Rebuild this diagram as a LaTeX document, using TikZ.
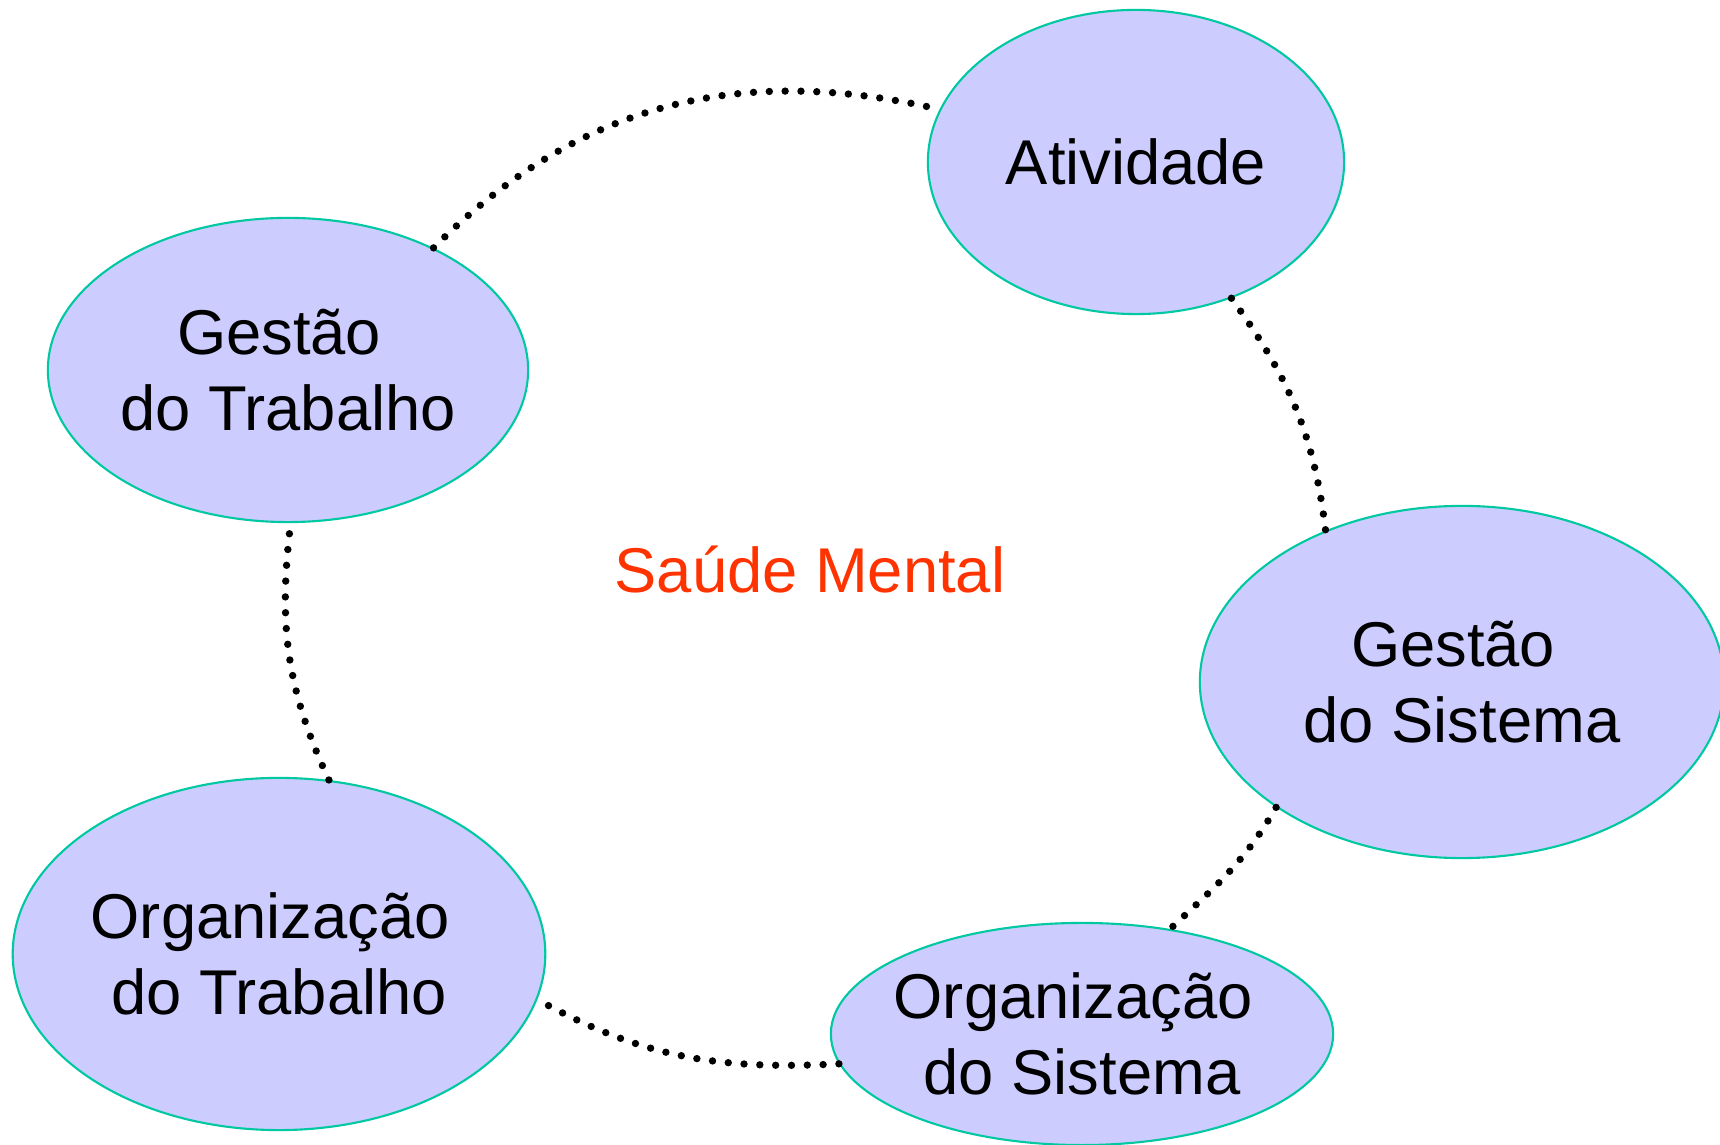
\documentclass[tikz,border=0pt]{standalone}
\usepackage{fontspec}
\setmainfont{Liberation Sans}
\usepackage{tikz}
\usetikzlibrary{shapes.geometric}
\definecolor{lilas}{HTML}{CCCCFF}
\definecolor{verdeborda}{HTML}{00C8A0}
\definecolor{vermelho}{HTML}{FF3300}
\tikzset{
    %Define style for ellipses
    bolha/.style={
           ellipse,
           draw=verdeborda, line width=0.6pt,
           fill=lilas,
           inner sep=0pt,
           align=center,
           font=\fontsize{18pt}{21.8pt}\selectfont},
    % Define dotted link style
    pontilhado/.style={
           black,
           line width=2.1pt,
           line cap=round,
           dash pattern=on 0pt off 4.5pt}
}
\begin{document}
\begin{tikzpicture}[x=0.01cm,y=0.01cm,main node/.style={bolha}]
\useasboundingbox (0,0) rectangle (1720,1145);
\node[main node, minimum width=4.16cm, minimum height=3.04cm] (1) at (1136,983) {Atividade};
\node[main node, minimum width=4.80cm, minimum height=3.04cm] (2) at (288,775) {Gestão\hspace*{0.28em}\\do Trabalho};
\node[main node, minimum width=5.24cm, minimum height=3.52cm] (3) at (1462,463) {Gestão\hspace*{0.28em}\\do Sistema};
\node[main node, minimum width=5.30cm, minimum height=3.52cm] (4) at (279,191) {Organização\hspace*{0.28em}\\do Trabalho};
\node[main node, minimum width=5.02cm, minimum height=2.22cm, inner xsep=-6pt] (5) at (1082,111) {Organização\hspace*{0.28em}\\do Sistema};
\node[anchor=base, text=vermelho, font=\fontsize{18pt}{21.8pt}\selectfont] (6) at (810,552) {Saúde Mental};
 \path[pontilhado]
    (2.40) edge[out=45, in=167] (1.165)
    (1.-55) edge[out=-54, in=97] (3.132)
    (3.214) edge[out=240, in=43] (5.50)
    (5.187) edge[out=183, in=331] (4.-10)
    (4.74) edge[out=115, in=263] (2.-89);
\end{tikzpicture}
\end{document}
